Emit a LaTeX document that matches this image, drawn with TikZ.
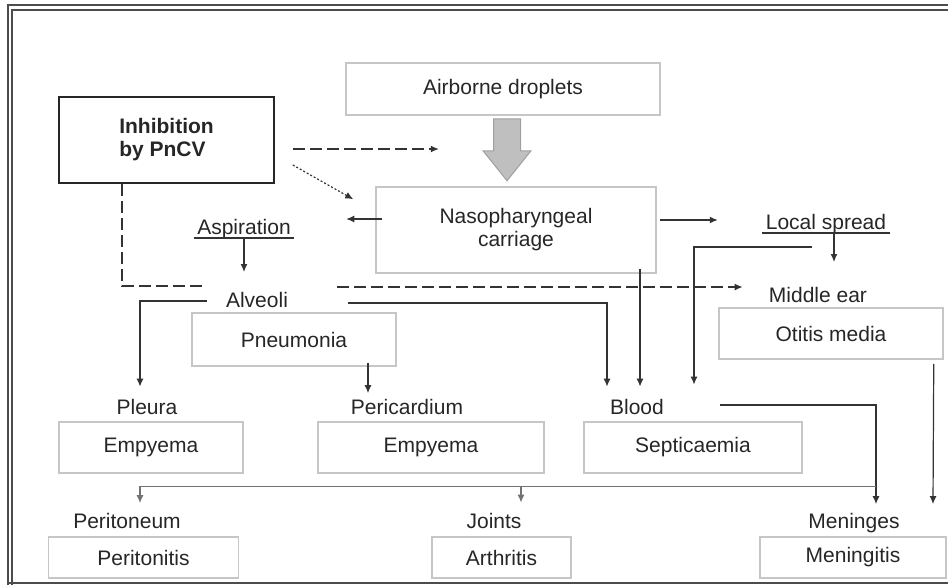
\documentclass[tikz,border=0pt]{standalone}
\usepackage{fontspec}
\setmainfont{Liberation Sans}
\usetikzlibrary{calc, arrows.meta}
\newcommand{\diagfont}{\fontsize{10.5pt}{11.5pt}\selectfont}

\begin{document}
\begin{tikzpicture}[x=0.5pt, y=-0.5pt]
    \tikzset{
        every node/.style={font=\diagfont, text=black!85},
        box/.style={draw=gray!45, line width=0.75pt, align=center, inner sep=0pt},
        lbl/.style={inner sep=1.5pt, text height=8pt, text depth=2.5pt},
        link/.style={draw=black!80, line width=0.6pt},
        arrow/.style={link, -{Latex[length=4pt, width=3.5pt]}},
        dashlink/.style={link, dash pattern=on 6pt off 2.5pt},
        frame/.style={draw=black!70, line width=0.6pt}
    }
    \useasboundingbox (0,0) rectangle (948,585);
    \draw[frame] (8,585) -- (8,5) -- (948,5);
    \draw[frame] (12,585) -- (12,10) -- (948,10);
    \draw[frame] (8,583) -- (948,583);

    \node[box, minimum width=157pt, minimum height=26pt] (air) at (503,89) {Airborne droplets};
    \node[box, draw=black!85, line width=0.8pt, minimum width=107.5pt, minimum height=43pt,
          align=left, font=\diagfont\bfseries] (inhib) at (166.5,140) {Inhibition\\by PnCV};
    \node[box, minimum width=140pt, minimum height=43pt] (naso) at (516,230) {Nasopharyngeal\\carriage};
    \node[box, minimum width=102pt, minimum height=26.5pt] (pneum) at (294,339.5) {Pneumonia};
    \node[box, minimum width=92pt, minimum height=25.5pt] (empleu) at (151,447.5) {Empyema};
    \node[box, minimum width=113pt, minimum height=25.5pt] (emperi) at (431,447.5) {Empyema};
    \node[box, minimum width=109pt, minimum height=25.5pt] (septi) at (693,447.5) {Septicaemia};
    \node[box, minimum width=112pt, minimum height=25.5pt] (otitis) at (831,333.5) {Otitis media};
    \node[box, minimum width=95pt, minimum height=20.5pt] (peritis) at (143.5,557.5) {Peritonitis};
    \node[box, minimum width=69.5pt, minimum height=20.5pt] (arthr) at (501.5,557.5) {Arthritis};
    \node[box, minimum width=93pt, minimum height=20.5pt] (mening) at (853,557.5) {Meningitis};

    \node[lbl] (aspir) at (244,229) {Aspiration};
    \node[lbl] (local) at (826,224) {Local spread};
    \node[lbl] (alveoli) at (257,302) {Alveoli};
    \node[lbl] (midear) at (818,297) {Middle ear};
    \node[lbl] (pleura) at (147,409) {Pleura};
    \node[lbl] (pericard) at (407,409) {Pericardium};
    \node[lbl] (blood) at (637,409) {Blood};
    \node[lbl] (periton) at (127,523) {Peritoneum};
    \node[lbl] (joints) at (494,523) {Joints};
    \node[lbl] (meninges) at (854,523) {Meninges};

    \draw[link] ($(aspir.base west)+(0,3.5)$) -- ($(aspir.base east)+(0,3.5)$);
    \draw[link] ($(local.base west)+(0,3.5)$) -- ($(local.base east)+(0,3.5)$);

    \coordinate (shaft) at ($(air.south)+(4,3)$);
    \filldraw[fill=gray!50, draw=gray!75, line width=0.5pt] (shaft) ++(-13.5,0) -- ++(27,0) -- ++(0,32)
        -- ++(10.5,0) -- ++(-24,30) -- ++(-24,-30) -- ++(10.5,0) -- cycle;

    \draw[dashlink, -{Latex[length=4pt, width=3.5pt]}] ($(inhib.east)+(18,9)$) -- ++(146,0);
    \draw[link, dash pattern=on 1pt off 1pt, -{Latex[length=4pt, width=3.5pt]}]
        ($(inhib.east)+(18,25)$) -- ($(naso.north west)+(-22,13)$);
    \draw[arrow] ($(naso.west)+(7,-11)$) -- ++(-36,0);
    \draw[arrow] ($(naso.east)+(3,-10)$) -- ++(58,0);
    \draw[arrow] ($(aspir.base)+(0,3.5)$) -- ++(0,34);
    \draw[arrow] ($(local.base)+(8,3.5)$) -- ++(0,29);

    \draw[dashlink] ($(inhib.south)+(-44.5,0)$) |- ($(alveoli.west)+(-16,-16)$);
    \draw[dashlink, -{Latex[length=4pt, width=3.5pt]}] ($(alveoli.east)+(46,-15)$) -- ($(midear.west)+(-23,-10)$);

    \draw[arrow] ($(alveoli.west)+(-16,-1)$) -| ($(pleura.north)+(-7,-8.5)$);
    \draw[arrow] ($(alveoli.east)+(57,1)$) -| ($(blood.north)+(-30,-8.5)$);
    \draw[arrow] ($(pneum.south)+(74,-4)$) -- ($(pericard.north)+(-39,-2)$);
    \draw[arrow] ($(naso.south)+(124,-5)$) -- ($(blood.north)+(3,-8.5)$);
    \draw[arrow] ($(local.base)+(-14,17.5)$) -| ($(blood.north)+(57,-10.5)$);
    \draw[arrow] ($(blood.east)+(53,-4)$) -| ($(meninges.north)+(22,-5)$);
    \draw[arrow] ($(otitis.south east)+(-10,4)$) -- ($(meninges.north)+(79,-5)$);
    \draw[arrow, draw=black!55] ($(meninges.north)+(22,-22.5)$) -| ($(periton.north)+(13,-6)$);
    \draw[arrow, draw=black!55] ($(joints.north)+(27,-22.5)$) -- ++(0,16);
\end{tikzpicture}
\end{document}
